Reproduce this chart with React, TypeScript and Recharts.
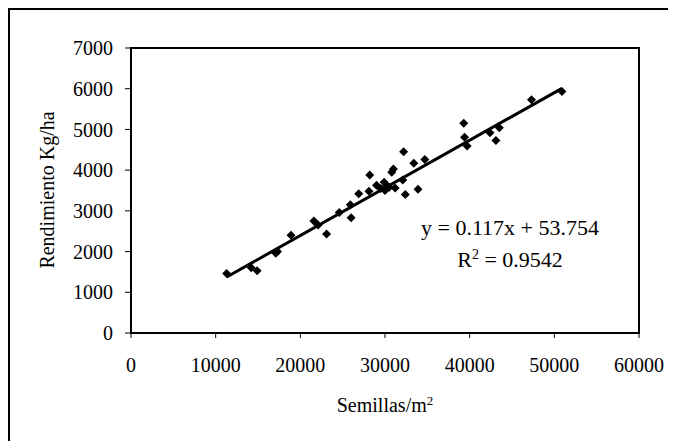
import React from "react"
import {
  ScatterChart,
  Scatter,
  XAxis,
  YAxis,
  ReferenceArea,
} from "recharts"

// semillas/m2 vs rendimiento kg/ha
const semillas = [
  11300, 14200, 14900, 17100, 17300, 18900, 21600, 22100, 23100, 24600,
  25900, 26000, 26900, 28100, 28200, 29000, 29500, 29900, 30000, 30200,
  30500, 30800, 31000, 31200, 32100, 32200, 32400, 33400, 33900, 34700,
  39300, 39400, 39700, 42400, 43100, 43500, 47300, 50900,
]
const rendimiento = [
  1460, 1600, 1530, 1960, 2000, 2400, 2750, 2650, 2430, 2960,
  3150, 2830, 3420, 3480, 3880, 3630, 3550, 3700, 3500, 3620,
  3580, 3950, 4030, 3560, 3760, 4450, 3400, 4170, 3530, 4260,
  5150, 4810, 4590, 4920, 4730, 5040, 5730, 5930,
]

const xTicks = [0, 10000, 20000, 30000, 40000, 50000, 60000]
const yTicks = [0, 1000, 2000, 3000, 4000, 5000, 6000, 7000]

const slope = 0.117
const intercept = 53.754
const trendX = [11300, 50900]

const points = semillas.map((x, i) => ({ x, y: rendimiento[i] }))
const trend = trendX.map((x) => ({ x, y: slope * x + intercept }))

const font = "'Liberation Serif', 'Times New Roman', serif"

function Diamond(props: any) {
  const { cx, cy } = props
  if (cx == null || cy == null) return <g />
  const r = 4.5
  return (
    <polygon
      points={`${cx},${cy - r} ${cx + r},${cy} ${cx},${cy + r} ${cx - r},${cy}`}
      fill="#000"
    />
  )
}

const tickStyle = { fontSize: 20, fill: "#000", fontFamily: font }

export default function App() {
  return (
    <div style={{ position: "relative", width: 668, height: 433, overflow: "hidden", fontFamily: font }}>
      {/* outer frame, only top/left visible */}
      <div
        style={{
          position: "absolute",
          left: 0,
          top: 0,
          width: 900,
          height: 900,
          borderLeft: "2px solid #000",
          borderTop: "2px solid #000",
        }}
      />
      <div style={{ position: "absolute", left: 0, top: 0 }}>
        <ScatterChart width={668} height={433} margin={{ top: 40, right: 37, bottom: 78, left: 63 }}>
          <XAxis
            type="number"
            dataKey="x"
            domain={[0, 60000]}
            ticks={xTicks}
            interval={0}
            tick={tickStyle}
            tickSize={5}
            tickMargin={20}
            axisLine={false}
            tickLine={{ stroke: "#000", strokeWidth: 1 }}
            height={30}
          />
          <YAxis
            type="number"
            dataKey="y"
            domain={[0, 7000]}
            ticks={yTicks}
            interval={0}
            tick={tickStyle}
            tickSize={6}
            tickMargin={12}
            axisLine={false}
            tickLine={{ stroke: "#000", strokeWidth: 1 }}
            width={60}
          />
          <ReferenceArea x1={0} x2={60000} y1={0} y2={7000} fill="none" stroke="#000" strokeWidth={2} />
          <Scatter data={points} shape={Diamond} isAnimationActive={false} />
          <Scatter
            data={trend}
            line={{ stroke: "#000", strokeWidth: 3 }}
            shape={() => <g />}
            isAnimationActive={false}
          />
        </ScatterChart>
      </div>

      {/* y axis title */}
      <div
        style={{
          position: "absolute",
          left: 39,
          top: 182,
          transform: "translate(-50%, -50%) rotate(-90deg)",
          whiteSpace: "nowrap",
          fontSize: 20,
        }}
      >
        Rendimiento Kg/ha
      </div>

      {/* x axis title */}
      <div
        style={{
          position: "absolute",
          left: 377,
          top: 397,
          transform: "translate(-50%, -50%)",
          whiteSpace: "nowrap",
          fontSize: 20,
        }}
      >
        Semillas/m<sup style={{ fontSize: 13 }}>2</sup>
      </div>

      {/* regression text */}
      <div
        style={{
          position: "absolute",
          left: 502,
          top: 204,
          transform: "translateX(-50%)",
          textAlign: "center",
          whiteSpace: "nowrap",
          fontSize: 22,
          lineHeight: "32px",
        }}
      >
        <div>y = 0.117x + 53.754</div>
        <div>
          R<sup style={{ fontSize: 14, lineHeight: 0 }}>2</sup> = 0.9542
        </div>
      </div>
    </div>
  )
}
